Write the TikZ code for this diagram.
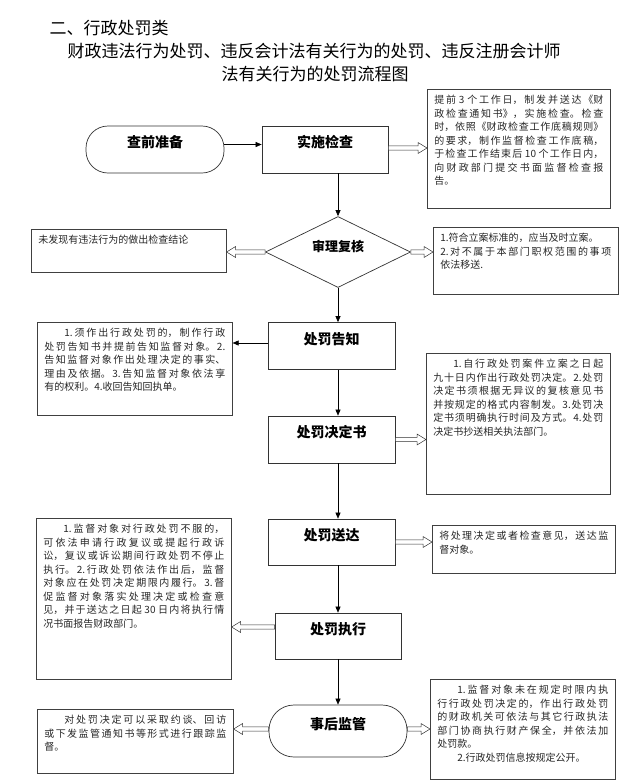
\documentclass[tikz,border=0pt]{standalone}
\usepackage{fontspec}
\setmainfont{Noto Sans CJK SC}
\usetikzlibrary{shapes.geometric,arrows.meta,calc}

\XeTeXlinebreaklocale "zh"
\XeTeXlinebreakskip=0pt plus 3pt

\newcommand{\notebody}[3]{\parbox[t][#2][t]{#1}{\fontsize{10}{13.5}\selectfont#3}}
\newcommand{\hollowarrow}[3][0pt]{%
  \draw[hollow] let \p1=([yshift=#1]#2), \p2=(#3), \n1={(\x2-\x1)/abs(\x2-\x1)} in
    (\x1,\y1+2.2pt) -- (\x2-\n1*9pt,\y1+2.2pt) -- (\x2-\n1*9pt,\y1+5.5pt)
    -- (\x2,\y1) -- (\x2-\n1*9pt,\y1-5.5pt) -- (\x2-\n1*9pt,\y1-2.2pt)
    -- (\x1,\y1-2.2pt) -- cycle;}

\begin{document}
\begin{tikzpicture}
    [
        x = 1pt, y = -1pt,
        stepbox/.style  = {draw=black!80, line width=0.7pt, minimum width=127pt, minimum height=47pt, inner sep=0pt,
                           font=\bfseries\fontsize{14}{16}\selectfont, text height=10pt, text depth=14pt},
        terminal/.style = {stepbox, rounded corners=22pt, minimum width=138pt},
        judge/.style    = {diamond, draw=black!80, line width=0.7pt, minimum width=145pt, minimum height=70pt, inner sep=0pt,
                           font=\bfseries\fontsize{13}{15}\selectfont, text height=9pt, text depth=10pt},
        note/.style     = {draw=black!75, line width=0.6pt, anchor=north west, inner xsep=7pt, inner ysep=6pt, text=black!85},
        flow/.style     = {line width=0.6pt, -{Triangle[length=6pt,width=5pt]}},
        hollow/.style   = {draw=black!80, line width=0.5pt, fill=white}
    ]
    \useasboundingbox (0,0) rectangle (635,782);

    % titles
    \node [anchor=west, font=\fontsize{17}{20}\selectfont] at (46,28) (section) {二、行政处罚类};
    \node [font=\fontsize{17}{20}\selectfont] at (314,51) (title) {财政违法行为处罚、违反会计法有关行为的处罚、违反注册会计师};
    \node [font=\fontsize{17}{20}\selectfont] at (315,74) (subtitle) {法有关行为的处罚流程图};

    % main steps
    \node [terminal] at (155,149.5) (prep) {查前准备};
    \node [stepbox, minimum width=126pt] at (325,149.5) (check) {实施检查};
    \node [judge] at (338,252) (review) {审理复核};
    \node [stepbox] at (331.5,346) (notify) {处罚告知};
    \node [stepbox] at (331.5,439.5) (decide) {处罚决定书};
    \node [stepbox, minimum height=46pt] at (331.5,542) (deliver) {处罚送达};
    \node [stepbox, minimum width=126pt, minimum height=46pt] at (338,636) (execute) {处罚执行};
    \node [terminal, minimum height=52pt, rounded corners=25pt] at (338,731) (followup) {事后监管};
    \coordinate (axis) at (338,0);

    % notes
    \node [note] at (427,89) (plan) {\notebody{169pt}{107pt}{%
        提前~3~个工作日，制发并送达《财\linebreak
        政检查通知书》，实施检查。检查\linebreak
        时，依照《财政检查工作底稿规则》\linebreak
        的要求，制作监督检查工作底稿，\linebreak
        于检查工作结束后~10~个工作日内，\linebreak
        向财政部门提交书面监督检查报\linebreak
        告。}};
    \node [note] at (31,229) (nofind) {\notebody{181pt}{31pt}{未发现有违法行为的做出检查结论}};
    \node [note] at (433,227) (filing) {\notebody{171pt}{55pt}{%
        1.符合立案标准的，应当及时立案。\par
        2.对不属于本部门职权范围的事项\linebreak
        依法移送.}};
    \node [note] at (37,322) (inform) {\notebody{181pt}{81pt}{%
        \hspace*{2em}1.须作出行政处罚的，制作行政\linebreak
        处罚告知书并提前告知监督对象。2.\linebreak
        告知监督对象作出处理决定的事实、\linebreak
        理由及依据。3.告知监督对象依法享\linebreak
        有的权利。4.收回告知回执单。}};
    \node [note] at (426,353) (rules) {\notebody{170pt}{129pt}{%
        \hspace*{2em}1.自行政处罚案件立案之日起\linebreak
        九十日内作出行政处罚决定。2.处罚\linebreak
        决定书须根据无异议的复核意见书\linebreak
        并按规定的格式内容制发。3.处罚决\linebreak
        定书须明确执行时间及方式。4.处罚\linebreak
        决定书抄送相关执法部门。}};
    \node [note] at (432,525) (serve) {\notebody{169pt}{36pt}{%
        将处理决定或者检查意见，送达监\linebreak
        督对象。}};
    \node [note] at (36,518) (appeal) {\notebody{181pt}{149pt}{%
        \hspace*{2em}1.监督对象对行政处罚不服的，\linebreak
        可依法申请行政复议或提起行政诉\linebreak
        讼，复议或诉讼期间行政处罚不停止\linebreak
        执行。2.行政处罚依法作出后，监督\linebreak
        对象应在处罚决定期限内履行。3.督\linebreak
        促监督对象落实处理决定或检查意\linebreak
        见，并于送达之日起~30~日内将执行情\linebreak
        况书面报告财政部门。}};
    \node [note] at (37,709) (track) {\notebody{182pt}{52pt}{%
        \hspace*{2em}对处罚决定可以采取约谈、回访\linebreak
        或下发监管通知书等形式进行跟踪监\linebreak
        督。}};
    \node [note] at (430,679) (enforce) {\notebody{171pt}{88pt}{%
        \hspace*{2em}1.监督对象未在规定时限内执\linebreak
        行行政处罚决定的，作出行政处罚\linebreak
        的财政机关可依法与其它行政执法\linebreak
        部门协商执行财产保全，并依法加\linebreak
        处罚款。\par
        \hspace*{2em}2.行政处罚信息按规定公开。}};

    % main flow
    \draw [flow] ([yshift=5pt]prep.east) -- ([yshift=5pt]check.west);
    \draw [flow] (check.south -| axis) -- (review.north);
    \draw [flow] (review.south) -- (notify.north -| axis);
    \draw [flow] (notify.south -| axis) -- (decide.north -| axis);
    \draw [flow] (decide.south -| axis) -- (deliver.north -| axis);
    \draw [flow] (deliver.south -| axis) -- (execute.north);
    \draw [flow] (execute.south) -- (followup.north);
    \draw [flow] ([yshift=3pt]notify.west) -- ([yshift=3pt]notify.west -| inform.east);

    % side arrows
    \hollowarrow[1.5pt]{check.east}{plan.west}
    \hollowarrow{review.west}{nofind.east}
    \hollowarrow{review.east}{filing.west}
    \hollowarrow{decide.east}{rules.west}
    \hollowarrow{deliver.east}{serve.west}
    \hollowarrow[9pt]{execute.west}{appeal.east}
    \hollowarrow[2pt]{followup.west}{track.east}
    \hollowarrow[2pt]{followup.east}{enforce.west}
\end{tikzpicture}
\end{document}
